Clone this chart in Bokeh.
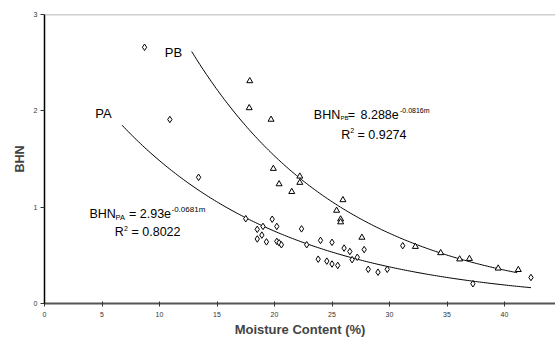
import numpy as np
from bokeh.plotting import figure
from bokeh.models import Range1d, FixedTicker, Label, Span
from bokeh.embed import file_html
from bokeh.resources import INLINE

# ---- data ----
pa_x = [8.7, 10.9, 13.4, 17.5, 18.5, 19.0, 19.8, 20.2, 18.9, 18.5, 19.3, 20.2, 20.4, 20.6,
        22.35, 22.8, 24.0, 25.0, 23.8, 24.55, 25.0, 25.5, 26.05, 26.55, 26.75, 27.2, 27.8,
        28.15, 29.0, 29.8, 31.15, 37.25, 42.3]
pa_y = [2.66, 1.91, 1.31, 0.88, 0.77, 0.80, 0.875, 0.80, 0.71, 0.67, 0.64, 0.645, 0.63, 0.61,
        0.775, 0.61, 0.655, 0.635, 0.46, 0.44, 0.41, 0.395, 0.575, 0.54, 0.455, 0.48, 0.56,
        0.355, 0.325, 0.355, 0.60, 0.205, 0.27]

pb_x = [17.85, 17.8, 19.7, 19.9, 20.4, 21.5, 22.2, 22.2, 25.95, 25.4, 25.75, 25.75, 27.6,
        32.25, 34.45, 36.1, 36.95, 39.45, 41.2]
pb_y = [2.31, 2.03, 1.91, 1.40, 1.24, 1.16, 1.32, 1.255, 1.075, 0.965, 0.875, 0.845, 0.685,
        0.59, 0.525, 0.46, 0.465, 0.365, 0.35]

# trend lines (exponential: a * exp(-k m)), span of each drawn curve
pa_trend = dict(a=2.93, k=0.0681, m0=6.75, m1=42.3)
pb_trend = dict(a=6.77, k=0.0743, m0=12.8, m1=41.1)

x_ticks = [0, 5, 10, 15, 20, 25, 30, 35, 40]
y_ticks = [0, 1, 2, 3]

FONT = "Liberation Sans"
W, H = 555, 340
L, T, B = 44, 14, 37
XMAX = (W - L) / 11.5

p = figure(width=W, height=H, output_backend="svg", toolbar_location=None,
           x_range=Range1d(0, XMAX), y_range=Range1d(0, 3),
           min_border_left=L, min_border_top=T, min_border_bottom=B, min_border_right=0)
p.outline_line_color = None
p.background_fill_color = "white"
p.border_fill_color = "white"
p.grid.visible = False

# top border line of plot area
p.add_layout(Span(location=3, dimension="width", line_color="#a0a0a0", line_width=1.5))

# trend lines
for tr in (pa_trend, pb_trend):
    m = np.linspace(tr["m0"], tr["m1"], 200)
    p.line(m, tr["a"] * np.exp(-tr["k"] * m), line_color="black", line_width=1)

p.scatter(pa_x, pa_y, marker="diamond", size=6.5, fill_color="white",
          line_color="black", line_width=1)
p.scatter(pb_x, pb_y, marker="triangle", size=6, fill_color="white",
          line_color="black", line_width=1)

# axes
xa = p.xaxis[0]
xa.ticker = FixedTicker(ticks=x_ticks)
xa.axis_label = "Moisture Content (%)"
xa.axis_label_text_font = FONT
xa.axis_label_text_font_style = "bold"
xa.axis_label_text_font_size = "13px"
xa.axis_label_standoff = 2
xa.major_label_text_font = FONT
xa.major_label_text_font_size = "7px"
xa.major_label_text_color = "#333333"
xa.major_label_standoff = 5
xa.axis_line_color = "#555555"
xa.axis_line_width = 2
xa.major_tick_in = 2
xa.major_tick_out = 3
xa.major_tick_line_color = "#333333"
xa.minor_tick_line_color = None

ya = p.yaxis[0]
ya.ticker = FixedTicker(ticks=y_ticks)
ya.axis_label = "BHN"
ya.axis_label_text_font = FONT
ya.axis_label_text_font_style = "bold"
ya.axis_label_text_font_size = "12.5px"
ya.axis_label_standoff = 4
ya.major_label_text_font = FONT
ya.major_label_text_font_size = "7px"
ya.major_label_text_color = "#333333"
ya.major_label_standoff = 3
ya.axis_line_color = "black"
ya.axis_line_width = 1.5
ya.major_tick_in = 0
ya.major_tick_out = 4
ya.major_tick_line_color = "#333333"
ya.minor_tick_line_color = None

# helpers: pixel position in the picture -> data coordinates (for annotation placement)
def X(px):
    return (px - L) / 11.5

def Y(py):
    return (303.3 - py) / 96.4

def lab(text, px, py, size, align="left"):
    p.add_layout(Label(x=X(px), y=Y(py), text=text, text_font=FONT,
                       text_font_size=size, text_align=align,
                       text_baseline="middle", text_color="black"))

lab("PB", 173, 52, "13px", "center")
lab("PA", 103, 113, "13px", "center")

# PB equation
lab("BHN", 313.3, 114.5, "12.5px")
lab("PB", 340, 117.5, "6px")
lab("=", 347.3, 114.5, "12.5px")
lab("8.288e", 360, 114.5, "12.5px")
lab("-0.0816m", 399.5, 110.5, "7px")
lab("R", 340.7, 134.5, "12.5px")
lab("2", 349.8, 130.5, "7px")
lab("= 0.9274", 357, 134.5, "12.5px")

# PA equation
lab("BHN", 89, 213.7, "12.5px")
lab("PA", 115, 217.7, "7.5px")
lab("= 2.93e", 128.5, 213.7, "12.5px")
lab("-0.0681m", 171, 209.3, "8px")
lab("R", 114.3, 232, "12.5px")
lab("2", 123.4, 228, "7px")
lab("= 0.8022", 131, 232, "12.5px")

open("out.html", "w").write(file_html(p, INLINE))
